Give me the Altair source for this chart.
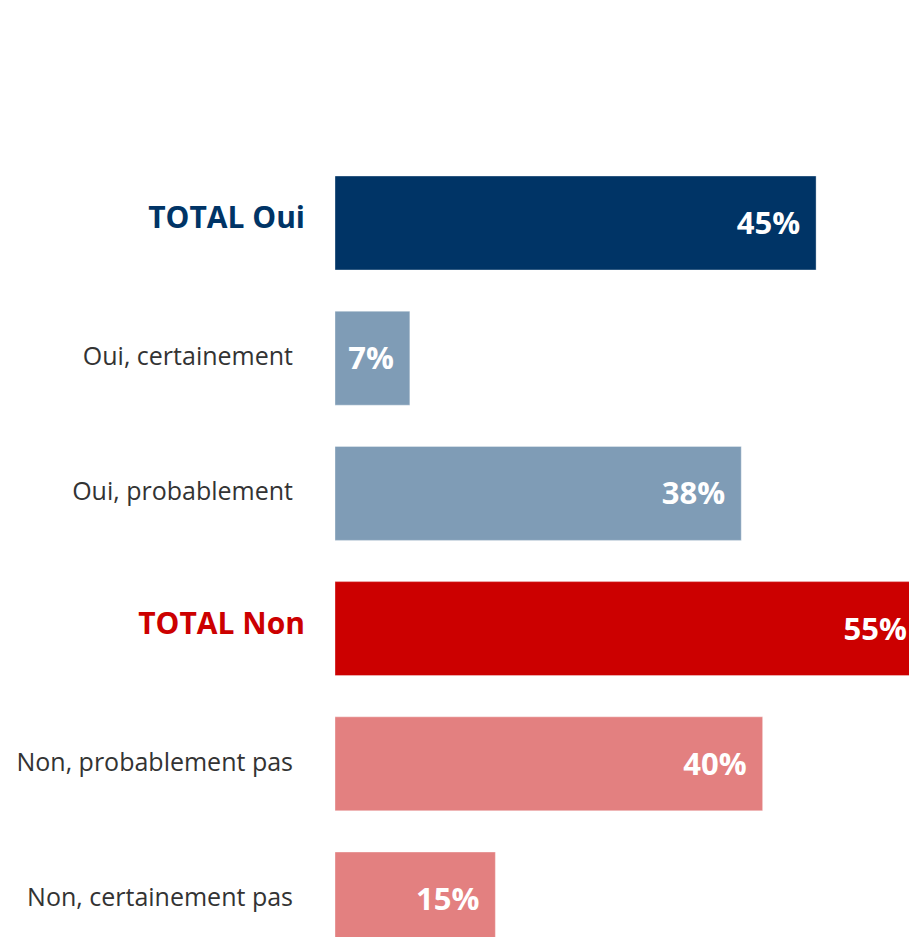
import altair as alt
import pandas as pd

categories = ["TOTAL Oui", "Oui, certainement", "Oui, probablement",
              "TOTAL Non", "Non, probablement pas", "Non, certainement pas"]
values = [45, 7, 38, 55, 40, 15]
is_total = [True, False, False, True, False, False]
bar_colors = ["#003466", "#7F9CB6", "#7F9CB6", "#CC0000", "#E38080", "#E38080"]
label_colors = ["#003466", "#333333", "#333333", "#CC0000", "#333333", "#333333"]

df = pd.DataFrame({
    "cat": categories,
    "val": values,
    "total": is_total,
    "barcolor": bar_colors,
    "labcolor": label_colors,
    "lab": [f"{v}%" for v in values],
})

FONT = "Open Sans"
y = alt.Y("cat:N", sort=categories, axis=None,
          scale=alt.Scale(range=[0, 770], paddingInner=0.305, paddingOuter=0))
x = alt.X("val:Q", axis=None, scale=alt.Scale(domain=[0, 53.69], nice=False, zero=True))

base = alt.Chart(df)

bars = base.mark_bar(clip=True, strokeWidth=1, strokeOpacity=0.35, stroke="white").encode(
    x=x, y=y, color=alt.Color("barcolor:N", scale=None)
)

vals = base.mark_text(align="right", baseline="middle", dx=-16, dy=2, font=FONT,
                      fontWeight="bold", fontSize=31, color="white").encode(
    x=x, y=y, text="lab:N"
)

tot_labels = base.transform_filter("datum.total").mark_text(
    align="right", baseline="middle", font=FONT, fontWeight="bold", fontSize=30, dy=-4
).encode(
    x=alt.value(-30), y=y, text="cat:N", color=alt.Color("labcolor:N", scale=None)
)

sub_labels = base.transform_filter("!datum.total").mark_text(
    align="right", baseline="middle", font=FONT, fontSize=25, color="#333333", dy=-1
).encode(
    x=alt.value(-42), y=y, text="cat:N"
)

chart = alt.layer(bars, vals, tot_labels, sub_labels).properties(
    width=574, height=761,
    autosize=alt.AutoSizeParams(type="none"),
    padding={"left": 327, "top": 168, "right": 0, "bottom": 0},
).configure_view(stroke=None)

chart.save("out.html", embed_options={"renderer": "svg", "actions": False})
